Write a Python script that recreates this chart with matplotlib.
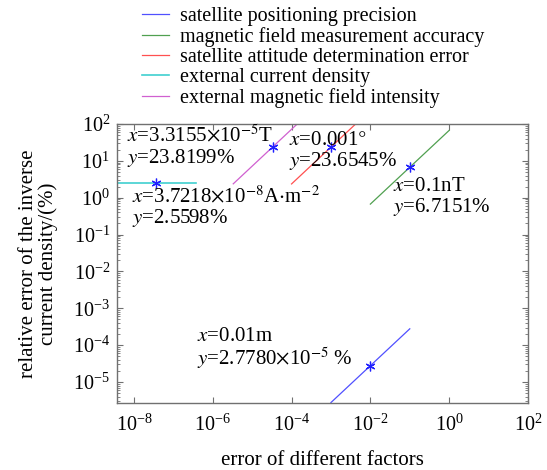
import numpy as np
import matplotlib
matplotlib.use('Agg')
import matplotlib.pyplot as plt
from matplotlib.ticker import FixedLocator, NullLocator, LogLocator, NullFormatter

plt.rcParams['font.family'] = ['Liberation Serif', 'DejaVu Serif']
plt.rcParams['mathtext.fontset'] = 'stix'

# error ranges of each factor and the matching relative error (linear dependence)
x_pos = [1e-3, 1e-1]            # satellite positioning precision (m)
k_pos = 2.7780e-5 / 0.01
x_mag = [1e-2, 1.0]             # magnetic field measurement accuracy (nT)
k_mag = 6.7151 / 0.1
x_att = [1e-4, 1e-2]            # attitude determination error (deg)
k_att = 23.6545 / 0.001
x_cur = [3.7218e-9, 3.7218e-7]  # external current density
y_cur = 2.5598
x_ext = [3.3155e-6, 3.3155e-4]  # external magnetic field intensity (T)
k_ext = 23.8199 / 3.3155e-5

# data tips
tip_x = [0.01, 0.1, 0.001, 3.7218e-8, 3.3155e-5]
tip_y = [2.7780e-5, 6.7151, 23.6545, 2.5598, 23.8199]

labels = ['satellite positioning precision',
          'magnetic field measurement accuracy',
          'satellite attitude determination error',
          'external current density',
          'external magnetic field intensity']

xticks = [1e-8, 1e-6, 1e-4, 1e-2, 1e0, 1e2]

fig = plt.figure(figsize=(5.47, 4.70), dpi=100)
ax = fig.add_axes([117/547, 1-403/470, 411/547, 279/470])

lw = 0.9
def span(xs, n=50):
    return np.logspace(np.log10(xs[0]), np.log10(xs[1]), n)

xx = span(x_pos); ax.plot(xx, k_pos*xx, color='#5050ff', lw=lw, label=labels[0])
xx = span(x_mag); ax.plot(xx, k_mag*xx, color='#50a050', lw=lw, label=labels[1])
xx = span(x_att); ax.plot(xx, k_att*xx, color='#ff5050', lw=lw, label=labels[2])
xx = span(x_cur); ax.plot(xx, np.full_like(xx, y_cur), color='#40d0d0', lw=1.2, label=labels[3])
xx = span(x_ext); ax.plot(xx, k_ext*xx, color='#d060d0', lw=lw, label=labels[4])

ax.plot(tip_x, tip_y, ls='none', marker=(6, 2, 0), ms=7, mew=0.9, color='#2020ff')

ax.set_xscale('log')
ax.set_yscale('log')
ax.set_xlim(3.7218e-9, 100)
ax.set_ylim(2.7e-6, 100)

ax.xaxis.set_major_locator(FixedLocator(xticks))
ax.xaxis.set_minor_locator(NullLocator())
ax.yaxis.set_major_locator(LogLocator(base=10, numticks=12))
ax.yaxis.set_minor_locator(LogLocator(base=10, subs=np.arange(2, 10), numticks=12))
ax.yaxis.set_minor_formatter(NullFormatter())

for s in ax.spines.values():
    s.set_color('#707070')
    s.set_linewidth(1.0)
ax.tick_params(which='both', direction='in', top=True, right=True, color='#707070',
               labelsize=14.5)
ax.tick_params(axis='x', pad=8)
ax.tick_params(axis='y', pad=5)
ax.tick_params(which='major', length=4)
ax.tick_params(which='minor', length=2)

ax.set_xlabel('error of different factors', fontsize=15, labelpad=11)
ax.set_ylabel('relative error of the inverse\ncurrent density/(%)', fontsize=15,
              labelpad=11, linespacing=1.0)

fs = 15
ls = 1.0
ax.text(0.024, 0.918, r'$x$=3.3155$\times$10$^{-5}$T' + '\n' + r'$y$=23.8199%',
        transform=ax.transAxes, fontsize=fs, va='center', ha='left', linespacing=ls)
ax.text(0.036, 0.70, r'$x$=3.7218$\times$10$^{-8}$A$\cdot$m$^{-2}$' + '\n' + r'$y$=2.5598%',
        transform=ax.transAxes, fontsize=fs, va='center', ha='left', linespacing=ls)
ax.text(0.418, 0.90, r'$x$=0.001$\degree$' + '\n' + r'$y$=23.6545%',
        transform=ax.transAxes, fontsize=fs, va='center', ha='left', linespacing=ls)
ax.text(0.672, 0.738, r'$x$=0.1nT' + '\n' + r'$y$=6.7151%',
        transform=ax.transAxes, fontsize=fs, va='center', ha='left', linespacing=ls)
ax.text(0.195, 0.194, r'$x$=0.01m' + '\n' + r'$y$=2.7780$\times$10$^{-5}$ %',
        transform=ax.transAxes, fontsize=fs, va='center', ha='left', linespacing=ls)

fig.legend(loc='upper left', bbox_to_anchor=(142/547, 1-7/470), frameon=False,
           fontsize=14.5, handlelength=1.35, handletextpad=0.55, labelspacing=0.05,
           borderaxespad=0, borderpad=0)

fig.savefig('out.png', dpi=100)
